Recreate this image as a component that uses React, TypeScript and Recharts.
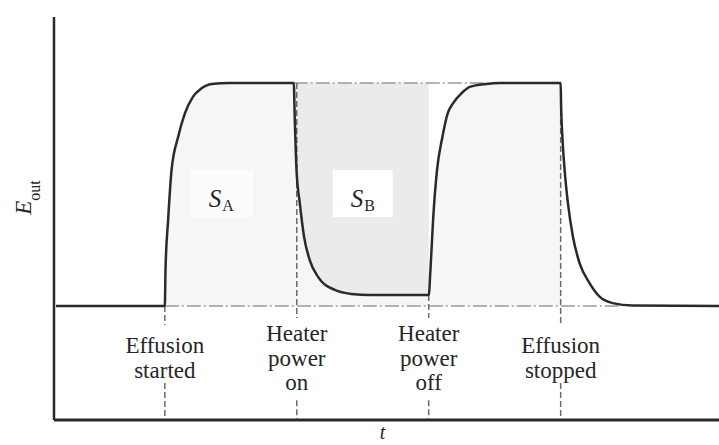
import React from "react";
import {
  ComposedChart,
  Line,
  Area,
  XAxis,
  YAxis,
  ReferenceLine,
  ReferenceArea,
} from "recharts";

// time (arbitrary units; events at t = 1, 2, 3, 4)
const timePoints = [
  0.175, 1.0, 1.005, 1.025, 1.051, 1.101, 1.152, 1.214, 1.278, 1.354, 1.492,
  1.977, 1.985, 1.998, 2.023, 2.055, 2.098, 2.161, 2.288, 2.414, 2.553, 3.0,
  3.013, 3.033, 3.063, 3.104, 3.144, 3.184, 3.248, 3.311, 3.437, 3.538, 4.0,
  4.004, 4.013, 4.03, 4.055, 4.093, 4.144, 4.22, 4.295, 4.394, 4.545, 5.2,
];
// output signal E_out (baseline 0, plateau 1)
const emissionValues = [
  0, 0, 0.161, 0.386, 0.61, 0.759, 0.864, 0.939, 0.976, 0.996, 1.0,
  1.0, 0.834, 0.61, 0.461, 0.311, 0.206, 0.131, 0.072, 0.054, 0.049, 0.049,
  0.161, 0.386, 0.61, 0.759, 0.864, 0.909, 0.954, 0.983, 0.996, 1.0, 1.0,
  0.883, 0.759, 0.61, 0.461, 0.311, 0.191, 0.102, 0.042, 0.013, 0.002, 0,
];

const eventTimes = [1, 2, 3, 4];
const eventLabels = [
  ["Effusion", "started"],
  ["Heater", "power", "on"],
  ["Heater", "power", "off"],
  ["Effusion", "stopped"],
];
// dashed marker extents (E units): top of marker, text gap start, text gap end
const markerTop = [0, 1, 0.049, 1];
const gapTop = [-0.085, -0.054, -0.054, -0.085];
const gapBottom = [-0.345, -0.422, -0.422, -0.345];

const effusionStart = 1;
const effusionStop = 4;
const heaterOn = 1.977;
const heaterOff = 3.0;
const plateau = 1;
const topGuideEnd = 3.44;
const baseGuideEnd = 4.45;

const tDomain = [0.16, 5.2];
const eDomain = [-0.511, 1.296];

// label boxes (S_A, S_B)
const regionNames = ["A", "B"];
const regionBoxT = [
  [1.19, 1.667],
  [2.273, 2.727],
];
const regionBoxE = [0.399, 0.61];
const regionBoxFill = ["#fcfcfc", "#ffffff"];

const data = timePoints.map((t, i) => {
  const E = emissionValues[i];
  return {
    t,
    E,
    under: t >= effusionStart && t <= effusionStop ? E : null,
    sb: t >= heaterOn && t <= heaterOff ? [E, plateau] : null,
  };
});

const FONT = "'Liberation Serif', 'Times New Roman', serif";
const TEXT = "#262626";

const EventTick = (props: any) => {
  const { x, y, payload } = props;
  const idx = eventTimes.indexOf(payload.value);
  const lines = idx >= 0 ? eventLabels[idx] : [];
  const n = lines.length;
  return (
    <g>
      {lines.map((ln, i) => (
        <text
          key={i}
          x={x}
          y={y - 54.5 - (n - 1) * 12.25 + i * 24.5}
          textAnchor="middle"
          fontFamily={FONT}
          fontSize={23}
          fill={TEXT}
        >
          {ln}
        </text>
      ))}
    </g>
  );
};

const makeRegionLabel = (name: string, fill: string) => (props: any) => {
  const vb = props.viewBox || {};
  const { x, y, width, height } = vb;
  return (
    <g>
      <rect x={x} y={y} width={width} height={height} fill={fill} />
      <text
        x={x + width / 2}
        y={y + height / 2 + 13}
        textAnchor="middle"
        fontFamily={FONT}
        fill={TEXT}
      >
        <tspan fontSize={25} fontStyle="italic">
          S
        </tspan>
        <tspan fontSize={16} dy={4} dx={1}>
          {name}
        </tspan>
      </text>
    </g>
  );
};

const YLabel = (props: any) => {
  const vb = props.viewBox || {};
  const cx = 31;
  const cy = vb.y + vb.height / 2 - 21;
  return (
    <text
      x={cx}
      y={cy}
      transform={`rotate(-90, ${cx}, ${cy})`}
      textAnchor="middle"
      fontFamily={FONT}
      fill={TEXT}
    >
      <tspan fontSize={23} fontStyle="italic">
        E
      </tspan>
      <tspan fontSize={16} dy={9}>
        out
      </tspan>
    </text>
  );
};

const XLabel = (props: any) => {
  const vb = props.viewBox || {};
  return (
    <text
      x={vb.x + vb.width / 2 - 4}
      y={vb.y + 19}
      textAnchor="middle"
      fontFamily={FONT}
      fontSize={20}
      fontStyle="italic"
      fill={TEXT}
    >
      t
    </text>
  );
};

export default function App() {
  const dashColor = "#6a6a6a";
  const guideColor = "#9a9a9a";
  return (
    <div>
      <style>{"body{margin:0;background:#fff}"}</style>
      <ComposedChart
        width={719}
        height={445}
        data={data}
        margin={{ top: 17, right: 0, bottom: 0, left: 0 }}
      >
        <XAxis
          dataKey="t"
          type="number"
          domain={tDomain}
          allowDataOverflow
          ticks={eventTimes}
          interval={0}
          tick={<EventTick />}
          tickLine={false}
          tickSize={0}
          tickMargin={0}
          height={25}
          axisLine={{ stroke: "#2a2a2a", strokeWidth: 3 }}
          label={XLabel}
        />
        <YAxis
          type="number"
          domain={eDomain}
          allowDataOverflow
          width={54}
          tick={false}
          tickLine={false}
          axisLine={{ stroke: "#2a2a2a", strokeWidth: 2.5 }}
          label={YLabel}
        />
        <Area
          dataKey="under"
          type="monotone"
          stroke="none"
          fill="#f6f6f6"
          fillOpacity={1}
          baseValue={0}
          isAnimationActive={false}
          dot={false}
          activeDot={false}
        />
        <Area
          dataKey="sb"
          type="monotone"
          stroke="none"
          fill="#ebebeb"
          fillOpacity={1}
          isAnimationActive={false}
          dot={false}
          activeDot={false}
        />
        <ReferenceLine
          segment={[
            { x: effusionStart, y: 0 },
            { x: baseGuideEnd, y: 0 },
          ]}
          stroke={guideColor}
          strokeWidth={1.5}
          strokeDasharray="14 3 2 3"
        />
        <ReferenceLine
          segment={[
            { x: heaterOn, y: plateau },
            { x: topGuideEnd, y: plateau },
          ]}
          stroke={guideColor}
          strokeWidth={1.5}
          strokeDasharray="14 3 2 3"
        />
        {eventTimes.map((t, i) => (
          <ReferenceLine
            key={`a${i}`}
            segment={[
              { x: t, y: markerTop[i] },
              { x: t, y: gapTop[i] },
            ]}
            stroke={dashColor}
            strokeWidth={1.5}
            strokeDasharray="6 3"
          />
        ))}
        {eventTimes.map((t, i) => (
          <ReferenceLine
            key={`b${i}`}
            segment={[
              { x: t, y: gapBottom[i] },
              { x: t, y: eDomain[0] },
            ]}
            stroke={dashColor}
            strokeWidth={1.5}
            strokeDasharray="6 3"
          />
        ))}
        {regionNames.map((name, i) => (
          <ReferenceArea
            key={name}
            x1={regionBoxT[i][0]}
            x2={regionBoxT[i][1]}
            y1={regionBoxE[0]}
            y2={regionBoxE[1]}
            fill="none"
            stroke="none"
            label={makeRegionLabel(name, regionBoxFill[i])}
          />
        ))}
        <Line
          dataKey="E"
          type="monotone"
          stroke="#2a2a2a"
          strokeWidth={2.5}
          dot={false}
          activeDot={false}
          isAnimationActive={false}
        />
      </ComposedChart>
    </div>
  );
}
